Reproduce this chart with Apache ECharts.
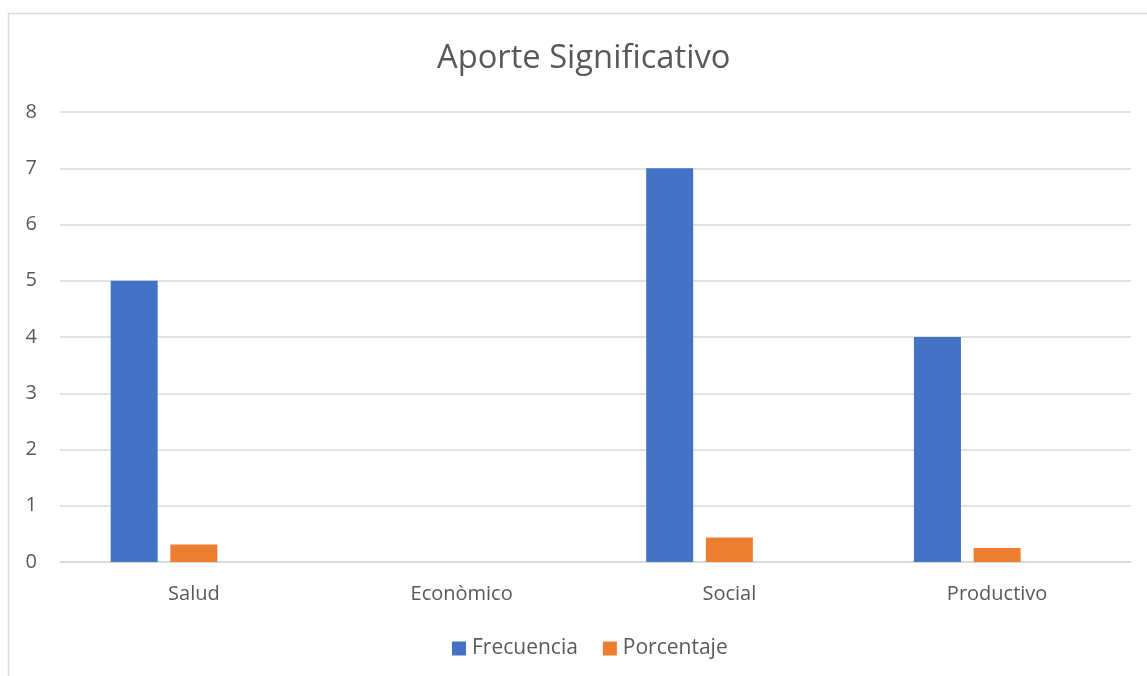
<!DOCTYPE html>
<html>
<head>
<meta charset="utf-8">
<script src="https://cdn.jsdelivr.net/npm/echarts@6/dist/echarts.min.js"></script>
<style>
html,body{margin:0;padding:0;background:#fff;}
#chart{width:1147px;height:676px;}
</style>
</head>
<body>
<div id="chart"></div>
<script>
const titleText = 'Aporte Significativo';
const categories = ['Salud', 'Econòmico', 'Social', 'Productivo'];
const frecuencia = [5, 0, 7, 4];
const porcentaje = [0.3125, 0, 0.4375, 0.25];
const emptySeries = [null, null, null, null];
const yTicks = { min: 0, max: 8, interval: 1 };

const textColor = '#595959';
const font = '"Open Sans", "Noto Sans", sans-serif';

const chart = echarts.init(document.getElementById('chart'), null, { renderer: 'canvas' });
chart.setOption({
  animation: false,
  backgroundColor: '#ffffff',
  graphic: [{
    type: 'rect',
    shape: { x: 8.5, y: 13.5, width: 1160, height: 700 },
    style: { fill: 'none', stroke: '#d9d9d9', lineWidth: 1.5 },
    silent: true
  }],
  title: {
    text: titleText,
    left: 432,
    top: 37,
    textStyle: { fontFamily: font, fontSize: 32.7, fontWeight: 'normal', color: textColor }
  },
  legend: {
    data: ['Frecuencia', 'Porcentaje'],
    left: 447,
    top: 633,
    itemWidth: 14,
    itemHeight: 14,
    itemGap: 25,
    icon: 'rect',
    textStyle: { fontFamily: font, fontSize: 21, color: textColor, padding: [0, 0, 0, 1] }
  },
  grid: { left: 60, right: 16, top: 112, bottom: 114, containLabel: false },
  xAxis: {
    type: 'category',
    data: categories,
    axisLine: { show: true, lineStyle: { color: '#d9d9d9', width: 1.5 } },
    axisTick: { show: false },
    axisLabel: { fontFamily: font, fontSize: 20, color: textColor, margin: 22 },
    splitLine: { show: false }
  },
  yAxis: {
    type: 'value',
    min: yTicks.min,
    max: yTicks.max,
    interval: yTicks.interval,
    axisLine: { show: false },
    axisTick: { show: false },
    axisLabel: { fontFamily: font, fontSize: 20, color: textColor, margin: 23 },
    splitLine: { lineStyle: { color: '#d9d9d9', width: 1.5 } }
  },
  series: [
    { name: 'Frecuencia', type: 'bar', data: frecuencia, barWidth: 47, barGap: '27%',
      itemStyle: { color: '#4472C4' } },
    { name: 'Porcentaje', type: 'bar', data: porcentaje, barWidth: 47, barGap: '27%',
      itemStyle: { color: '#ED7D31' } },
    { name: 'Vacío', type: 'bar', data: emptySeries, barWidth: 47, barGap: '27%',
      itemStyle: { color: '#A5A5A5' } }
  ]
});
</script>
</body>
</html>
